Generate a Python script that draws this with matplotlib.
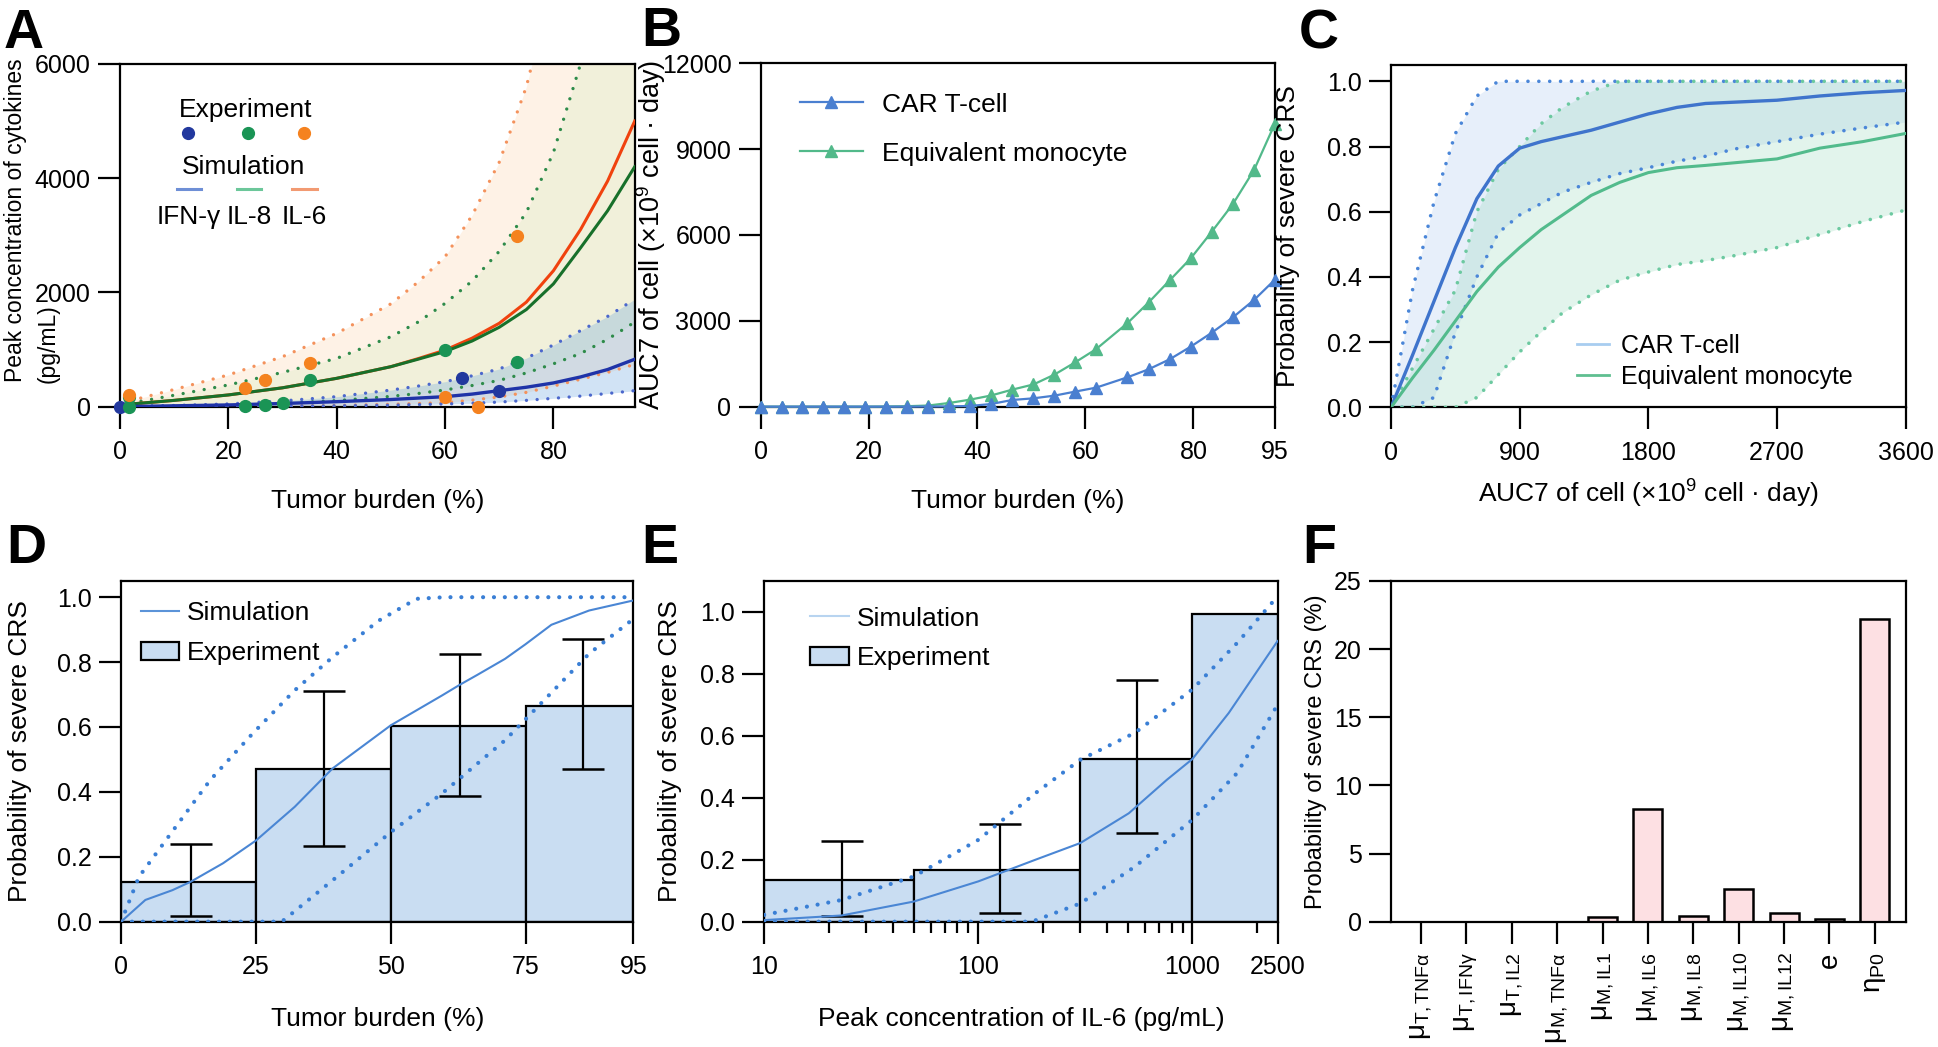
import numpy as np
import matplotlib
matplotlib.use("Agg")
import matplotlib.pyplot as plt
from matplotlib import ticker
from matplotlib.lines import Line2D
from matplotlib.patches import Patch

plt.rcParams["font.family"] = ["Liberation Sans", "DejaVu Sans"]
plt.rcParams["mathtext.fontset"] = "custom"
plt.rcParams["mathtext.rm"] = "Liberation Sans"
plt.rcParams["mathtext.it"] = "Liberation Sans"
plt.rcParams["mathtext.default"] = "regular"

# ---------------- A: peak cytokines vs tumor burden ----------------
a_x = [0, 10, 20, 30, 40, 50, 55, 60, 65, 70, 75, 80, 85, 90, 95]
a_il6_mid = [30, 110, 205, 330, 496, 700, 840, 990, 1200, 1460, 1830, 2380, 3100, 3950, 5000]
a_il8_mid = [30, 110, 205, 330, 496, 700, 830, 965, 1150, 1390, 1700, 2150, 2780, 3430, 4200]
a_ifn_mid = [0, 15, 30, 55, 87, 125, 150, 175, 220, 280, 340, 415, 520, 650, 830]
a_il6_hi = [58, 300, 555, 875, 1283, 1800, 2180, 2624, 3350, 4280, 5600, 7500, 9500, 12000, 15000]
a_il6_lo = [0, 2, 5, 10, 20, 40, 55, 70, 115, 170, 250, 360, 480, 600, 740]
a_il8_hi = [29, 200, 380, 600, 845, 1224, 1480, 1808, 2200, 2720, 3400, 4450, 6000, 7800, 10000]
a_il8_lo = [0, 10, 29, 60, 105, 180, 230, 292, 370, 460, 590, 750, 930, 1180, 1480]
a_ifn_hi = [0, 20, 47, 100, 175, 290, 360, 437, 540, 660, 850, 1080, 1330, 1580, 1880]
a_ifn_lo = [0, 2, 5, 8, 15, 25, 35, 47, 60, 80, 110, 146, 185, 230, 280]

exp_ifn_x = [0, 63.1, 70]
exp_ifn_y = [0, 507, 280]
exp_il8_x = [1.7, 1.7, 23, 26.8, 30, 35, 60, 73.2]
exp_il8_y = [175, 0, 12, 23, 70, 466, 991, 787]
exp_il6_x = [1.7, 23, 26.8, 35, 60, 66, 73.2]
exp_il6_y = [204, 332, 466, 770, 175, 0, 2985]

# ---------------- B: AUC7 vs tumor burden ----------------
b_x = [0, 3.9, 7.7, 11.5, 15.4, 19.3, 23.2, 27.1, 31, 34.9, 38.7, 42.6, 46.5,
       50.4, 54.3, 58.1, 62, 67.8, 71.7, 75.6, 79.5, 83.4, 87.3, 91.2, 95]
b_car = [0, 0, 0, 0, 0, 0, 0, 0, 5, 10, 23, 93, 233, 291, 385, 525, 664,
         1026, 1305, 1655, 2098, 2587, 3124, 3730, 4429]
b_mono = [0, 0, 0, 0, 0, 0, 5, 15, 40, 130, 245, 390, 595, 775, 1120, 1545, 2010,
          2920, 3640, 4415, 5185, 6118, 7085, 8273, 9870]

# ---------------- C: probability vs AUC7 ----------------
c_x = [0, 150, 300, 450, 600, 750, 900, 1050, 1200, 1400, 1600, 1800, 2000, 2200, 2400, 2700, 3000, 3300, 3600]
c_car_mid = [0, 0.16, 0.325, 0.49, 0.64, 0.74, 0.795, 0.815, 0.83, 0.85, 0.875, 0.9, 0.92, 0.932, 0.936, 0.942, 0.955, 0.965, 0.972]
c_car_hi = [0, 0.36, 0.63, 0.84, 0.955, 1.0, 1, 1, 1, 1, 1, 1, 1, 1, 1, 1, 1, 1, 1]
c_car_lo = [0, 0, 0.03, 0.23, 0.4, 0.535, 0.59, 0.625, 0.66, 0.69, 0.717, 0.735, 0.755, 0.77, 0.792, 0.815, 0.838, 0.857, 0.875]
c_mono_mid = [0, 0.09, 0.175, 0.265, 0.355, 0.43, 0.49, 0.545, 0.59, 0.65, 0.69, 0.72, 0.735, 0.742, 0.75, 0.762, 0.795, 0.815, 0.84]
c_mono_hi = [0, 0.12, 0.24, 0.36, 0.6, 0.73, 0.8, 0.87, 0.92, 0.97, 1.0, 1, 1, 1, 1, 1, 1, 1, 1]
c_mono_lo = [0, 0, 0, 0, 0.03, 0.1, 0.17, 0.232, 0.29, 0.345, 0.39, 0.415, 0.438, 0.45, 0.465, 0.49, 0.53, 0.57, 0.605]

# ---------------- D: probability vs tumor burden ----------------
d_edges = [0, 25, 50, 75, 95]
d_prob = [0.123, 0.47, 0.602, 0.665]
d_err_x = [12.9, 37.6, 62.8, 85.6]
d_err_lo = [0.017, 0.234, 0.387, 0.469]
d_err_hi = [0.239, 0.712, 0.824, 0.87]
d_sim_x = [0, 4.5, 9.5, 12.9, 18.9, 25, 32.2, 39.2, 50, 59.5, 62.8, 66, 71.2, 75, 79.8, 86.8, 95]
d_sim_y = [0, 0.067, 0.097, 0.123, 0.18, 0.25, 0.354, 0.472, 0.605, 0.697, 0.73, 0.76, 0.81, 0.855, 0.915, 0.959, 0.99]
d_hi_x = [0, 3.3, 8.7, 16.5, 24.4, 32.2, 39.2, 47.8, 54.8, 60, 70, 80, 95]
d_hi_y = [0, 0.138, 0.26, 0.436, 0.58, 0.713, 0.815, 0.928, 0.995, 1, 1, 1, 1]
d_lo_x = [0, 10, 20, 29.8, 40, 50.1, 59.5, 71.2, 79, 86.8, 95]
d_lo_y = [0, 0, 0, 0, 0.138, 0.277, 0.395, 0.559, 0.692, 0.826, 0.933]

# ---------------- E: probability vs peak IL-6 ----------------
e_edges = [10, 50, 300, 1000, 2500]
e_prob = [0.133, 0.167, 0.525, 0.992]
e_err_x = [23, 126, 553]
e_err_lo = [0.018, 0.029, 0.286]
e_err_hi = [0.259, 0.315, 0.781]
e_err_mid = [0.133, 0.167, 0.525]
e_sim_x = [10, 23, 50, 100, 185, 300, 505, 760, 1000, 1480, 2500]
e_sim_y = [0.005, 0.02, 0.065, 0.13, 0.2, 0.254, 0.35, 0.458, 0.525, 0.674, 0.906]
e_hi_x = [10, 23, 50, 100, 185, 300, 540, 1000, 1620, 2400]
e_hi_y = [0.022, 0.07, 0.146, 0.264, 0.415, 0.523, 0.61, 0.75, 0.9, 1.036]
e_lo_x = [10, 100, 178, 300, 540, 1000, 1620, 2480]
e_lo_y = [0, 0, 0, 0.059, 0.178, 0.329, 0.48, 0.696]

# ---------------- F: sensitivity ----------------
f_labels = [r"$\mu_{T,TNF\alpha}$", r"$\mu_{T,IFN\gamma}$", r"$\mu_{T,IL2}$", r"$\mu_{M,TNF\alpha}$",
            r"$\mu_{M,IL1}$", r"$\mu_{M,IL6}$", r"$\mu_{M,IL8}$", r"$\mu_{M,IL10}$",
            r"$\mu_{M,IL12}$", "e", r"$\eta_{P0}$"]
f_values = [0, 0, 0, 0, 0.37, 8.26, 0.44, 2.43, 0.66, 0.2, 22.18]

TICK = 18
LAB = 19
BAR = "#c9ddf2"
SIMBLUE = "#4a86d4"


def style(ax):
    for s in ax.spines.values():
        s.set_linewidth(1.6)
    ax.tick_params(which="both", direction="out")
    ax.tick_params(length=16, width=1.6, labelsize=TICK, pad=5)
    ax.tick_params(axis="x", pad=8)


def dotted(ax, x, y, color, lw=3.0, gap=2.6):
    ax.plot(x, y, color=color, lw=lw, linestyle=(0, (0.01, gap)), dash_capstyle="round", zorder=4)


fig = plt.figure(figsize=(19.38, 10.47), dpi=100)

# ======== A ========
ax = fig.add_axes([0.0619, 0.6116, 0.2656, 0.3273])
style(ax)
ax.fill_between(a_x, a_il6_lo, a_il6_hi, color="#fbc48f", alpha=0.22, lw=0)
ax.fill_between(a_x, a_il8_lo, a_il8_hi, color="#d9efc4", alpha=0.35, lw=0)
ax.fill_between(a_x, a_ifn_lo, a_ifn_hi, color="#69a5de", alpha=0.3, lw=0)
dotted(ax, a_x, a_il6_hi, "#f4925c", lw=2.4, gap=3.2)
dotted(ax, a_x, a_il6_lo, "#f4925c", lw=2.4, gap=3.2)
dotted(ax, a_x, a_il8_hi, "#2e8b4a", lw=2.4, gap=3.2)
dotted(ax, a_x, a_il8_lo, "#2e8b4a", lw=2.4, gap=3.2)
dotted(ax, a_x, a_ifn_hi, "#4b67cc", lw=2.4, gap=3.2)
dotted(ax, a_x, a_ifn_lo, "#4b67cc", lw=2.4, gap=3.2)
ax.plot(a_x, a_il6_mid, color="#f0420e", lw=2.2, zorder=5)
ax.plot(a_x, a_il8_mid, color="#17702a", lw=2.2, zorder=5)
ax.plot(a_x, a_ifn_mid, color="#1f33a8", lw=2.4, zorder=5)
ax.plot(exp_ifn_x, exp_ifn_y, "o", color="#22389e", ms=8.5, clip_on=False, zorder=6)
ax.plot(exp_il8_x, exp_il8_y, "o", color="#1a9455", ms=8.5, clip_on=False, zorder=6)
ax.plot(exp_il6_x, exp_il6_y, "o", color="#f5821f", ms=8.5, clip_on=False, zorder=6)
ax.set_xlim(0, 95)
ax.set_ylim(0, 6000)
ax.set_xticks([0, 20, 40, 60, 80])
ax.set_yticks([0, 2000, 4000, 6000])
ax.set_xlabel("Tumor burden (%)", fontsize=LAB, va="top")
ax.xaxis.set_label_coords(0.5, -0.24)
ax.set_ylabel("Peak concentration of cytokines", fontsize=16.5)
ax.yaxis.set_label_coords(-0.18, 0.545)
ax.text(-0.118, 0.07, "(pg/mL)", transform=ax.transAxes, rotation=90, ha="right", va="bottom", fontsize=16.5)
# custom legend block
ax.text(0.245, 0.866, "Experiment", transform=ax.transAxes, ha="center", va="center", fontsize=LAB)
ax.text(0.241, 0.70, "Simulation", transform=ax.transAxes, ha="center", va="center", fontsize=LAB)
for xd, xl0, name, dc, lc in [(0.132, 0.11, "IFN-γ", "#22389e", "#6e8fd6"),
                              (0.249, 0.227, "IL-8", "#1a9455", "#6cc79a"),
                              (0.357, 0.335, "IL-6", "#f5821f", "#f29a72")]:
    ax.add_line(Line2D([xd], [0.798], marker="o", color=dc, ms=8.5, transform=ax.transAxes))
    ax.add_line(Line2D([xl0, xl0 + 0.047], [0.634, 0.634], color=lc, lw=2.2, transform=ax.transAxes))
    ax.text(xl0 + 0.0235, 0.554, name, transform=ax.transAxes, ha="center", va="center", fontsize=LAB)

# ======== B ========
ax = fig.add_axes([0.3925, 0.6116, 0.2652, 0.3279])
style(ax)
ax.plot(b_x, b_mono, "-^", color="#52b98a", lw=1.6, ms=8.5, clip_on=False, zorder=4, label="Equivalent monocyte")
ax.plot(b_x, b_car, "-^", color="#4a7fd0", lw=1.6, ms=8.5, clip_on=False, zorder=5, label="CAR T-cell")
ax.set_xlim(0, 95)
ax.set_ylim(0, 12000)
ax.set_xticks([0, 20, 40, 60, 80, 95])
ax.set_yticks([0, 3000, 6000, 9000, 12000])
ax.set_xlabel("Tumor burden (%)", fontsize=LAB, va="top")
ax.xaxis.set_label_coords(0.5, -0.24)
ax.set_ylabel("AUC7 of cell (×10$^{9}$ cell · day)", fontsize=19.5)
ax.yaxis.set_label_coords(-0.18, 0.5)
h, l = ax.get_legend_handles_labels()
ax.legend(h[::-1], l[::-1], loc="upper left", bbox_to_anchor=(0.076, 0.915), frameon=False, fontsize=LAB,
          borderpad=0, borderaxespad=0, labelspacing=0.95, handlelength=2.4, handletextpad=0.7)

# ======== C ========
ax = fig.add_axes([0.7178, 0.611, 0.2655, 0.3269])
style(ax)
ax.fill_between(c_x, c_car_lo, c_car_hi, color="#a9c6ee", alpha=0.28, lw=0)
ax.fill_between(c_x, c_mono_lo, c_mono_hi, color="#8fd6b4", alpha=0.25, lw=0)
dotted(ax, c_x, c_car_hi, "#4a86d8", lw=2.6, gap=3.0)
dotted(ax, c_x, c_car_lo, "#4a86d8", lw=2.6, gap=3.0)
dotted(ax, c_x, c_mono_hi, "#6cc9a0", lw=2.6, gap=3.0)
dotted(ax, c_x, c_mono_lo, "#6cc9a0", lw=2.6, gap=3.0)
ax.plot(c_x, c_car_mid, color="#3f74cc", lw=2.4, zorder=5)
ax.plot(c_x, c_mono_mid, color="#52bb8c", lw=2.2, zorder=5)
ax.set_xlim(0, 3600)
ax.set_ylim(0, 1.05)
ax.set_xticks([0, 900, 1800, 2700, 3600])
ax.set_yticks([0, 0.2, 0.4, 0.6, 0.8, 1.0])
ax.yaxis.set_major_formatter(ticker.FormatStrFormatter("%.1f"))
ax.set_xlabel("AUC7 of cell (×10$^{9}$ cell · day)", fontsize=LAB, va="top")
ax.xaxis.set_label_coords(0.5, -0.205)
ax.set_ylabel("Probability of severe CRS", fontsize=LAB)
ax.yaxis.set_label_coords(-0.177, 0.5)
ax.legend([Line2D([0], [0], color="#a8cdf0", lw=2), Line2D([0], [0], color="#5fbf90", lw=2)],
          ["CAR T-cell", "Equivalent monocyte"], loc="upper left", bbox_to_anchor=(0.362, 0.215),
          frameon=False, fontsize=18, borderpad=0, borderaxespad=0, labelspacing=0.3,
          handlelength=1.25, handletextpad=0.5)

# ======== D ========
ax = fig.add_axes([0.0625, 0.1197, 0.2643, 0.3254])
style(ax)
ax.bar(d_edges[:-1], d_prob, width=np.diff(d_edges), align="edge", color=BAR, edgecolor="black", lw=1.6, zorder=2)
ax.errorbar(d_err_x, d_prob, yerr=[np.subtract(d_prob, d_err_lo), np.subtract(d_err_hi, d_prob)],
            fmt="none", ecolor="black", elinewidth=1.6, capsize=15, capthick=1.8, zorder=3)
dotted(ax, d_hi_x, d_hi_y, "#3a7fd5")
dotted(ax, d_lo_x, d_lo_y, "#3a7fd5")
ax.plot(d_sim_x, d_sim_y, color=SIMBLUE, lw=1.5, zorder=5)
ax.set_xlim(0, 95)
ax.set_ylim(0, 1.05)
ax.set_xticks([0, 25, 50, 75, 95])
ax.set_yticks([0, 0.2, 0.4, 0.6, 0.8, 1.0])
ax.yaxis.set_major_formatter(ticker.FormatStrFormatter("%.1f"))
ax.set_xlabel("Tumor burden (%)", fontsize=LAB, va="top")
ax.xaxis.set_label_coords(0.5, -0.25)
ax.set_ylabel("Probability of severe CRS", fontsize=LAB)
ax.yaxis.set_label_coords(-0.174, 0.5)
ax.legend([Line2D([0], [0], color="#5b93d8", lw=1.5), Patch(facecolor=BAR, edgecolor="black", lw=1.6)],
          ["Simulation", "Experiment"], loc="upper left", bbox_to_anchor=(0.039, 0.94), frameon=False,
          fontsize=LAB, borderpad=0, borderaxespad=0, labelspacing=0.6, handlelength=1.45, handletextpad=0.3)

# ======== E ========
ax = fig.add_axes([0.3943, 0.1197, 0.2649, 0.3254])
style(ax)
ax.set_xscale("log")
ax.bar(e_edges[:-1], e_prob, width=np.diff(e_edges), align="edge", color=BAR, edgecolor="black", lw=1.6, zorder=2)
ax.errorbar(e_err_x, e_err_mid, yerr=[np.subtract(e_err_mid, e_err_lo), np.subtract(e_err_hi, e_err_mid)],
            fmt="none", ecolor="black", elinewidth=1.6, capsize=15, capthick=1.8, zorder=3)
dotted(ax, e_hi_x, e_hi_y, "#3a7fd5")
dotted(ax, e_lo_x, e_lo_y, "#3a7fd5")
ax.plot(e_sim_x, e_sim_y, color=SIMBLUE, lw=1.5, zorder=5)
ax.set_xlim(10, 2500)
ax.set_ylim(0, 1.1)
ax.xaxis.set_major_locator(ticker.FixedLocator([10, 100, 1000, 2500]))
ax.xaxis.set_major_formatter(ticker.FixedFormatter(["10", "100", "1000", "2500"]))
ax.xaxis.set_minor_locator(ticker.LogLocator(base=10, subs=np.arange(2, 10)))
ax.xaxis.set_minor_formatter(ticker.NullFormatter())
ax.tick_params(axis="x", which="minor", direction="out", length=8, width=1.6)
ax.set_yticks([0, 0.2, 0.4, 0.6, 0.8, 1.0])
ax.yaxis.set_major_formatter(ticker.FormatStrFormatter("%.1f"))
ax.set_xlabel("Peak concentration of IL-6 (pg/mL)", fontsize=LAB, va="top")
ax.xaxis.set_label_coords(0.5, -0.25)
ax.set_ylabel("Probability of severe CRS", fontsize=LAB)
ax.yaxis.set_label_coords(-0.16, 0.5)
ax.legend([Line2D([0], [0], color="#b8d4f0", lw=1.5), Patch(facecolor=BAR, edgecolor="black", lw=1.6)],
          ["Simulation", "Experiment"], loc="upper left", bbox_to_anchor=(0.09, 0.925), frameon=False,
          fontsize=LAB, borderpad=0, borderaxespad=0, labelspacing=0.6, handlelength=1.45, handletextpad=0.3)

# ======== F ========
ax = fig.add_axes([0.7178, 0.1197, 0.2655, 0.3254])
style(ax)
xs = np.arange(len(f_values))
ax.bar(xs, f_values, width=0.64, color="#fde0e3", edgecolor="black", lw=1.8)
ax.set_xlim(-0.66, 10.68)
ax.set_ylim(0, 25)
ax.set_yticks([0, 5, 10, 15, 20, 25])
ax.set_xticks(xs)
ax.set_xticklabels(f_labels, rotation=90)
ax.tick_params(axis="x", labelsize=20, pad=6)
ax.set_ylabel("Probability of severe CRS (%)", fontsize=17)
ax.yaxis.set_label_coords(-0.124, 0.5)

# panel letters
for letter, xf, yf in [("A", 0.002, 0.954), ("B", 0.331, 0.956), ("C", 0.670, 0.954),
                       ("D", 0.003, 0.4623), ("E", 0.331, 0.4623), ("F", 0.672, 0.4623)]:
    fig.text(xf, yf, letter, fontsize=40, fontweight="bold", ha="left", va="baseline")

fig.savefig("out.png", dpi=100)
